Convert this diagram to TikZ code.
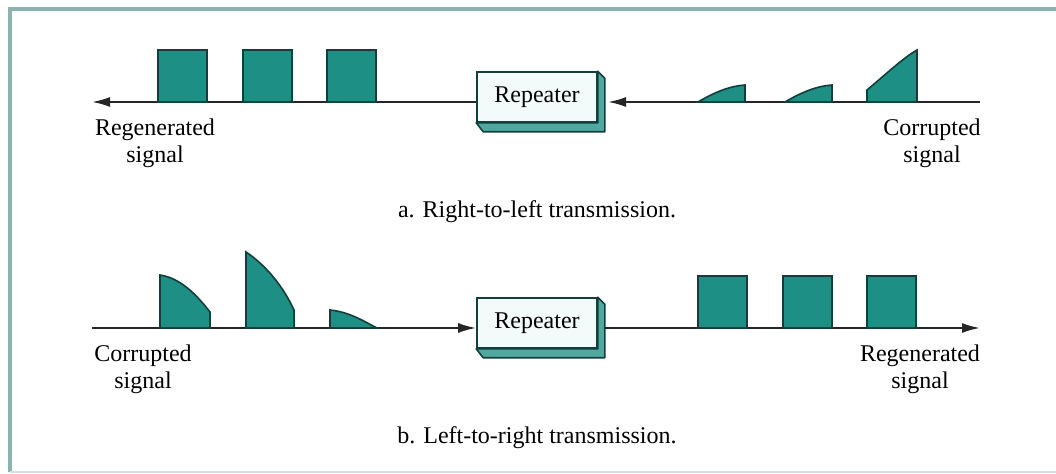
\documentclass[tikz,border=0pt]{standalone}
\usepackage{fontspec}
\setmainfont{Liberation Serif}
\usepackage{tikz}
\usepackage{xcolor}
\usetikzlibrary{arrows.meta,calc,positioning}
\definecolor{teal1}{HTML}{1E8F85}
\definecolor{tealdark}{HTML}{123F3B}
\definecolor{tealside}{HTML}{4FA9A0}
\definecolor{frame}{HTML}{8DB3AE}
\definecolor{face}{HTML}{F3FAFA}

\begin{document}
\begin{tikzpicture}[
          x=0.5pt, y=-0.5pt,
          every node/.style={font=\fontsize{12}{13.5}\selectfont},
          wire/.style={line width=1pt, draw=black!85},
          tip/.style={-{Latex[length=9pt,width=5pt]}},
          pulse/.style={fill=teal1, draw=tealdark, line width=0.8pt},
          repeater/.style={draw=tealdark, fill=face, line width=0.8pt, minimum width=60pt, minimum height=25pt, inner sep=0pt},
          side/.style={fill=tealside, draw=tealdark, line width=0.8pt, line join=round},
          label/.style={align=center, inner sep=1pt}
      ]
        \useasboundingbox (0,0) rectangle (1056,474);
        \fill[white] (0,0) rectangle (1056,474);
        \draw[frame, line width=1.6pt] (10,472) -- (10,9) -- (1060,9);
        \draw[frame!40, line width=0.8pt] (10,472) -- (1060,472);

        % a. right-to-left
        \node[repeater] (rpa) at (537,97) {Repeater};
        \draw[side] (rpa.north east) -- ++(7,7) -- ($(rpa.south east)+(7,9)$) -- ($(rpa.south west)+(7,9)$) -- (rpa.south west) -- (rpa.south east) -- cycle;
        \coordinate (aleft) at (92,102);
        \coordinate (aright) at (980,102);
        \coordinate (ain) at (608,102);
        \draw[wire, tip] (aright) -- (ain);
        \draw[wire, tip] (rpa.west |- aleft) -- (aleft);

        \foreach \px in {158,243,327}
          \draw[pulse] (\px,102) rectangle ++(49,-52);

        \draw[pulse] (698,102) .. controls (715,92) and (730,86) .. (745,85) -- (745,102) -- cycle;
        \draw[pulse] (785,102) .. controls (802,92) and (817,86) .. (832,85) -- (832,102) -- cycle;
        \draw[pulse] (867,102) -- (867,90) .. controls (885,75) and (903,58) .. (917,50) -- (917,102) -- cycle;

        \node[label] (regena) at (155,143) {Regenerated\\signal};
        \node[label] (corra) at (932,143) {Corrupted\\signal};
        \node (capa) at (537,212) {a. Right-to-left transmission.};

        % b. left-to-right
        \node[repeater] (rpb) at (537,323) {Repeater};
        \draw[side] (rpb.north east) -- ++(7,7) -- ($(rpb.south east)+(7,9)$) -- ($(rpb.south west)+(7,9)$) -- (rpb.south west) -- (rpb.south east) -- cycle;
        \coordinate (bleft) at (92,328);
        \coordinate (bright) at (980,328);
        \coordinate (bout) at (605,328);
        \draw[wire, tip] (bleft) -- (rpb.west |- bleft);
        \draw[wire, tip] (bout) -- (bright);

        \draw[pulse] (160,328) -- (160,275) .. controls (180,278) and (196,294) .. (210,312) -- (210,328) -- cycle;
        \draw[pulse] (246,328) -- (246,252) .. controls (264,264) and (282,284) .. (294,310) -- (294,328) -- cycle;
        \draw[pulse] (330,328) -- (330,310) .. controls (350,312) and (365,322) .. (377,328) -- cycle;

        \foreach \px in {698,783,867}
          \draw[pulse] (\px,328) rectangle ++(49,-52);

        \node[label] (corrb) at (143,369) {Corrupted\\signal};
        \node[label] (regenb) at (920,369) {Regenerated\\signal};
        \node (capb) at (537,438) {b. Left-to-right transmission.};
      \end{tikzpicture}
\end{document}
